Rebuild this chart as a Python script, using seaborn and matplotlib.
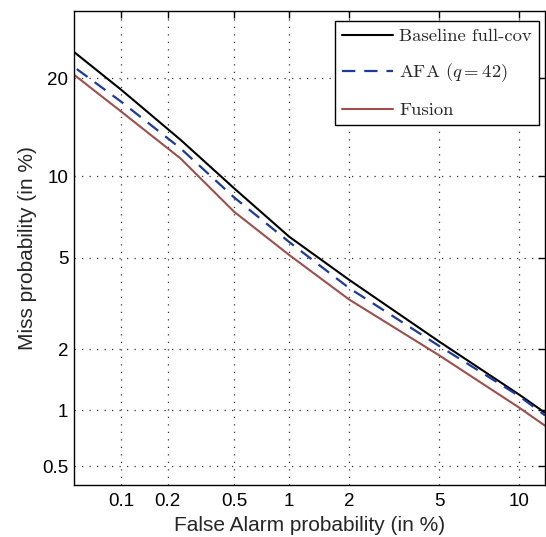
import numpy as np
import matplotlib
matplotlib.use("Agg")
import matplotlib.pyplot as plt
import seaborn as sns
from statistics import NormalDist

# DET curve values (percent)
fa_baseline = [0.048, 0.1, 0.24, 0.5, 1, 2, 5, 10, 12.2]
miss_baseline = [23.4, 18.6, 13.2, 9.1, 6.05, 4.06, 2.17, 1.20, 0.97]

fa_afa = [0.050, 0.1, 0.24, 0.5, 1, 2, 5, 10, 12.2]
miss_afa = [21.15, 17.2, 12.4, 8.45, 5.77, 3.75, 2.07, 1.18, 0.94]

fa_fusion = [0.048, 0.1, 0.24, 0.5, 1, 2, 5, 10, 12.2]
miss_fusion = [20.4, 16.1, 11.5, 7.5, 5.13, 3.35, 1.87, 1.03, 0.83]

xticks = [0.1, 0.2, 0.5, 1, 2, 5, 10]
xticklabels = ["0.1", "0.2", "0.5", "1", "2", "5", "10"]
yticks = [0.5, 1, 2, 5, 10, 20]
yticklabels = ["0.5", "1", "2", "5", "10", "20"]

_nd = NormalDist()
_ppf = np.vectorize(_nd.inv_cdf, otypes=[float])
_cdf = np.vectorize(_nd.cdf, otypes=[float])


def probit(v):
    v = np.clip(np.asarray(v, dtype=float) / 100.0, 1e-12, 1 - 1e-12)
    return _ppf(v)


def inv_probit(z):
    return _cdf(np.asarray(z, dtype=float)) * 100.0


sns.set_style("white")
plt.rcParams["font.family"] = ["Liberation Sans", "DejaVu Sans"]
plt.rcParams["mathtext.fontset"] = "cm"

fig = plt.figure(figsize=(5.46, 5.37), dpi=100)
ax = fig.add_axes([74 / 546, 1 - 485 / 537, (545 - 74) / 546, (485 - 11) / 537])
ax.set_xscale("function", functions=(probit, inv_probit))
ax.set_yscale("function", functions=(probit, inv_probit))

sns.lineplot(x=fa_baseline, y=miss_baseline, sort=False, estimator=None,
             color="black", lw=1.5, label=r"Baseline full-cov", ax=ax)
sns.lineplot(x=fa_afa, y=miss_afa, sort=False, estimator=None,
             color="#1c3b9a", lw=1.6, label=r"AFA ($q = 42$)", ax=ax)
ax.lines[-1].set_dashes((6, 4))
sns.lineplot(x=fa_fusion, y=miss_fusion, sort=False, estimator=None,
             color="#9c504c", lw=1.5, label="Fusion", ax=ax)

ax.set_xlim(0.0478, 12.2)
ax.set_ylim(0.39, 29.4)
ax.set_xticks(xticks)
ax.set_xticklabels(xticklabels)
ax.set_yticks(yticks)
ax.set_yticklabels(yticklabels)
ax.minorticks_off()
ax.tick_params(direction="in", top=True, right=True, length=5, width=1,
               labelsize=13.5, color="black", labelcolor="black")
ax.tick_params(axis="x", pad=6)
ax.tick_params(axis="y", pad=4)
ax.grid(True, color="#333333", linestyle=(0, (1, 5)), linewidth=0.9)
for s in ax.spines.values():
    s.set_color("black")
    s.set_linewidth(1.0)

ax.set_xlabel("False Alarm probability (in %)", fontsize=15, labelpad=4)
ax.set_ylabel("Miss probability (in %)", fontsize=15, labelpad=4)

leg = ax.legend(loc="upper right", bbox_to_anchor=(0.987, 0.979),
                prop={"family": "cmr10", "size": 13.4},
                frameon=True, fancybox=False, edgecolor="black",
                handlelength=2.75, labelspacing=0.95, borderpad=0.38,
                borderaxespad=0, handletextpad=0.33)
leg.get_frame().set_linewidth(1.0)
leg.get_frame().set_alpha(1)

fig.savefig("out.png", dpi=100)
